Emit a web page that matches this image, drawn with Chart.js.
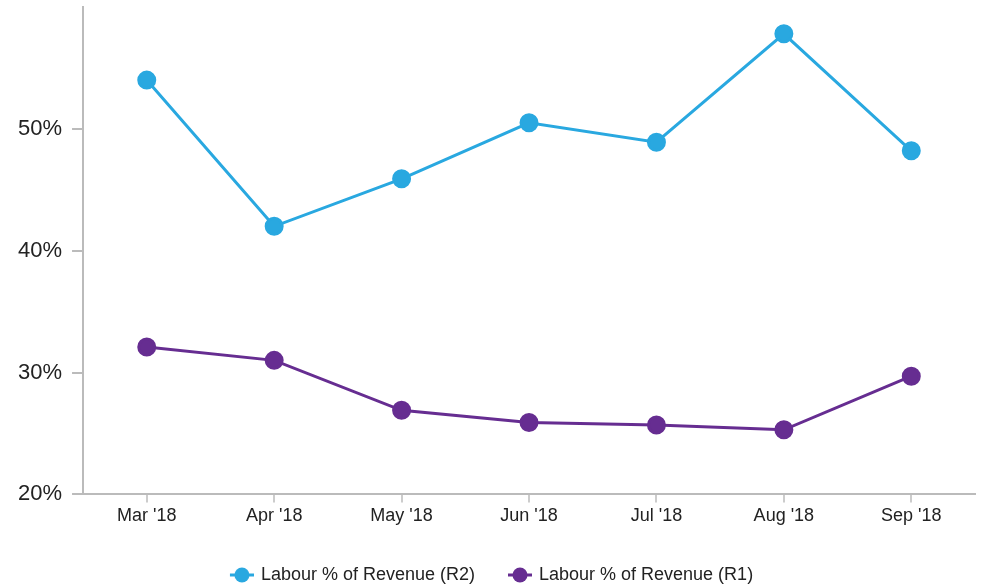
<!DOCTYPE html>
<html>
<head>
<meta charset="utf-8">
<script src="https://cdn.jsdelivr.net/npm/chart.js@4"></script>
<style>
  html, body { margin: 0; padding: 0; background: #fff; }
  #wrap { width: 993px; height: 586px; position: relative; }
</style>
</head>
<body>
<div id="wrap"><canvas id="chart"></canvas></div>
<script>
const months = ["Mar '18", "Apr '18", "May '18", "Jun '18", "Jul '18", "Aug '18", "Sep '18"];
const labourR2 = [54.0, 42.0, 45.9, 50.5, 48.9, 57.8, 48.2];
const labourR1 = [32.1, 31.0, 26.9, 25.9, 25.7, 25.3, 29.7];

const font = "'Liberation Sans', Arial, sans-serif";
const blue = '#29a8e0';
const purple = '#662d91';

// legend marker: circle with a line through it, blank space on the left
// so the two legend entries sit further apart
function legendMarker(color) {
    const c = document.createElement('canvas');
    c.width = 43;
    c.height = 16;
    const ctx = c.getContext('2d');
    ctx.strokeStyle = color;
    ctx.lineWidth = 3;
    ctx.beginPath();
    ctx.moveTo(19, 8);
    ctx.lineTo(43, 8);
    ctx.stroke();
    ctx.fillStyle = color;
    ctx.beginPath();
    ctx.arc(31, 8, 7.5, 0, Math.PI * 2);
    ctx.fill();
    return c;
}

// the blank part of the first marker shifts the legend right; pull it back
const legendShift = {
    id: 'legendShift',
    afterLayout: (chart) => { chart.legend.left -= 17; }
};

const config = {
    type: 'line',
    data: {
        labels: months,
        datasets: [
            {
                label: 'Labour % of Revenue (R2)',
                data: labourR2,
                borderColor: blue,
                backgroundColor: blue,
                borderWidth: 3,
                pointRadius: 8,
                pointHoverRadius: 8,
                tension: 0
            },
            {
                label: 'Labour % of Revenue (R1)',
                data: labourR1,
                borderColor: purple,
                backgroundColor: purple,
                borderWidth: 3,
                pointRadius: 8,
                pointHoverRadius: 8,
                tension: 0
            }
        ]
    },
    options: {
        responsive: true,
        maintainAspectRatio: false,
        animation: false,
        layout: {
            autoPadding: false,
            padding: { left: 8, right: 18, top: 7, bottom: -8 }
        },
        plugins: {
            legend: {
                position: 'bottom',
                labels: {
                    usePointStyle: true,
                    pointStyleWidth: 39,
                    padding: 16,
                    color: '#222',
                    font: { family: font, size: 18 },
                    generateLabels: (chart) => {
                        const items = Chart.defaults.plugins.legend.labels.generateLabels(chart);
                        items.forEach((it, i) => {
                            it.pointStyle = legendMarker(chart.data.datasets[i].borderColor);
                        });
                        return items;
                    }
                }
            },
            tooltip: { enabled: false }
        },
        scales: {
            x: {
                offset: true,
                grid: {
                    offset: false,
                    drawOnChartArea: false,
                    drawTicks: true,
                    tickLength: 8,
                    color: '#cccccc',
                    lineWidth: 2
                },
                border: { color: '#bbbbbb', width: 2 },
                ticks: {
                    color: '#222',
                    padding: 3,
                    font: { family: font, size: 18 }
                },
                afterFit: (scale) => { scale.height += 20; }
            },
            y: {
                min: 20,
                max: 60,
                grid: {
                    drawOnChartArea: false,
                    drawTicks: true,
                    tickLength: 11,
                    color: '#bbbbbb',
                    lineWidth: 2
                },
                border: { color: '#bbbbbb', width: 2 },
                ticks: {
                    stepSize: 10,
                    color: '#222',
                    padding: 10,
                    font: { family: font, size: 22 },
                    callback: (v) => v + '%'
                },
                afterBuildTicks: (axis) => {
                    axis.ticks = axis.ticks.filter(t => t.value < 60);
                },
                afterFit: (scale) => { scale.paddingTop = 0; }
            }
        }
    },
    plugins: [legendShift]
};

new Chart(document.getElementById('chart'), config);
</script>
</body>
</html>
